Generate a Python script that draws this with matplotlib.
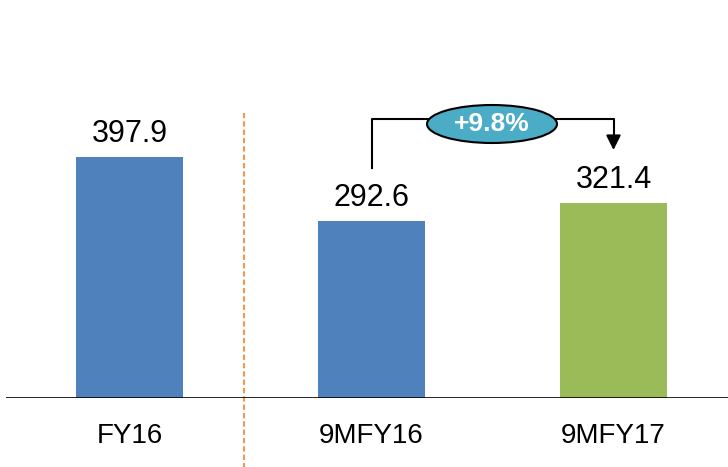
import matplotlib
matplotlib.use("Agg")
import matplotlib.pyplot as plt
from matplotlib.patches import Ellipse

# -------- data --------
categories = ["FY16", "9MFY16", "9MFY17"]
values = [397.9, 292.6, 321.4]
bar_colors = ["#4F81BD", "#4F81BD", "#9BBB59"]
growth_label = "+9.8%"

W, H = 728, 467
fig = plt.figure(figsize=(W / 100, H / 100), dpi=100)
base_px = 398
ax = fig.add_axes([6 / W, (H - base_px) / H, 1 - 6 / W, base_px / H])
px_per_unit = 0.6055
ax.set_xlim((6 - 129.5) / 242, (728 - 129.5) / 242)
ax.set_ylim(0, base_px / px_per_unit)
ax.axis("off")

x = list(range(len(categories)))
ax.bar(x, values, width=0.44, color=bar_colors, zorder=2)

# baseline
ax.axhline(0, color="black", lw=1.2, zorder=3)

# value labels
for xi, v in zip(x, values):
    ax.text(xi, v + 15 / px_per_unit, f"{v:.1f}", ha="center", va="baseline",
            fontsize=22, family="Liberation Sans", color="black")

# category labels
for xi, c in zip(x, categories):
    ax.text(xi, -38 / px_per_unit, c, ha="center", va="center",
            fontsize=20, family="Liberation Sans", color="black", clip_on=False)

# dashed separator
sep_x = (244 - 129.5) / 242
ax.plot([sep_x, sep_x], [(base_px - 113) / px_per_unit, -(H - base_px) / px_per_unit],
        color="#F79646", lw=1.5, ls=(0, (2.5, 1.5)), clip_on=False, zorder=1)

# growth bracket
y_top = (base_px - 119) / px_per_unit
y_left = (base_px - 168) / px_per_unit
y_tip = (base_px - 150) / px_per_unit
ex = (492 - 129.5) / 242
ew = 130 / 242
ax.plot([1, 1, ex], [y_left, y_top, y_top], color="black", lw=1.5, zorder=3)
ax.plot([ex, 2, 2], [y_top, y_top, y_tip + 20], color="black", lw=1.5, zorder=3)
ax.annotate("", xy=(2, y_tip), xytext=(2, y_tip + 22),
            arrowprops=dict(arrowstyle="-|>", color="black", lw=1.5,
                            mutation_scale=22, shrinkA=0, shrinkB=0), zorder=4)
ell = Ellipse((ex, (base_px - 124) / px_per_unit), ew, 38 / px_per_unit,
              facecolor="#4BACC6", edgecolor="black", lw=1.5, zorder=5)
ax.add_patch(ell)
ax.text(ex, (base_px - 124) / px_per_unit, growth_label, ha="center", va="center",
        fontsize=19, fontweight="bold", color="white", family="Liberation Sans", zorder=6)

fig.savefig("out.png", dpi=100)
